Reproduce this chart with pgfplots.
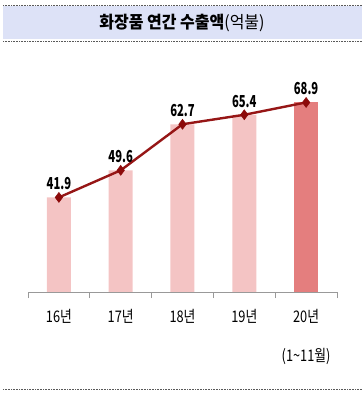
\documentclass[border=0pt]{standalone}
\usepackage{pgfplots}
\pgfplotsset{compat=1.18}
\usepackage{fontspec}
\setmainfont{Noto Sans CJK KR}
\newfontfamily\condfont{Noto Sans CJK KR}[FakeStretch=0.8]
\newfontfamily\numfont{Noto Sans CJK KR}[FakeStretch=0.68]
\newfontfamily\titlefont{Noto Sans CJK KR}[FakeStretch=0.94]
\definecolor{barlight}{RGB}{244,196,196}
\definecolor{bardark}{RGB}{228,126,126}
\definecolor{linered}{RGB}{150,22,22}
\definecolor{markred}{RGB}{140,10,10}
\definecolor{band}{RGB}{221,226,247}
\begin{document}
\begin{tikzpicture}
\path[use as bounding box] (0,0) rectangle (364pt,400pt);
% title band
\fill[band] (3pt,361pt) rectangle (362pt,394pt);
\draw[gray!70!black, densely dotted, line width=0.6pt] (3pt,395pt) -- (362pt,395pt);
\draw[gray!70!black, densely dotted, line width=0.6pt] (3pt,359pt) -- (362pt,359pt);
\draw[gray!70!black, densely dotted, line width=0.6pt] (3pt,11pt) -- (362pt,11pt);
\node[font=\titlefont\fontsize{17}{19}\selectfont] at (182pt,377pt) {\textbf{화장품 연간 수출액}(억불)};
\begin{axis}[
  at={(28pt,108pt)}, anchor=south west,
  scale only axis, width=309pt, height=211pt,
  xmin=-0.5, xmax=4.5, ymin=15, ymax=75,
  axis y line=none, axis x line*=bottom,
  x axis line style={gray!80, line width=0.8pt, -},
  xtick={0,1,2,3,4},
  xticklabels={16년,17년,18년,19년,{20년\\[20pt](1\textasciitilde 11월)}},
  xticklabel style={align=center, font=\condfont\fontsize{16}{19}\selectfont, yshift=-14pt},
  major tick length=0pt,
  extra x ticks={-0.5,0.5,1.5,2.5,3.5,4.5},
  extra x tick labels={},
  extra x tick style={major tick length=6pt, tick align=outside, tick style={gray!80, line width=0.8pt}},
  ytick=\empty,
  clip=false,
  /pgf/number format/assume math mode=true,
]
\addplot[ybar, bar width=24pt, bar shift=0pt, fill=barlight, draw=none] coordinates {(0,41.9) (1,49.6) (2,62.7) (3,65.4)};
\addplot[ybar, bar width=24pt, bar shift=0pt, fill=bardark, draw=none] coordinates {(4,68.9)};
\addplot[linered, line width=2.4pt, mark=diamond*, mark size=5pt,
  mark options={fill=markred, draw=markred, line width=0.5pt},
  nodes near coords={\pgfmathprintnumber[fixed,precision=1,fixed zerofill]{\pgfplotspointmeta}},
  nodes near coords style={font=\numfont\bfseries\fontsize{16.5}{18}\selectfont, text=black, inner sep=2pt, yshift=5pt}]
  coordinates {(0,41.9) (1,49.6) (2,62.7) (3,65.4) (4,68.9)};
\end{axis}
\end{tikzpicture}
\end{document}
